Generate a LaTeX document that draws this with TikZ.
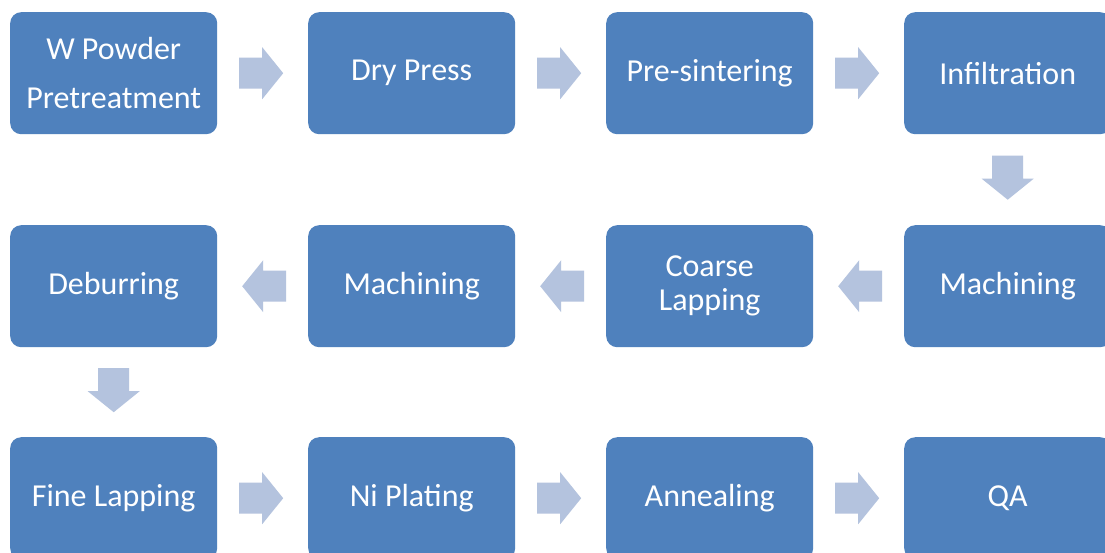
\documentclass[tikz,border=0pt]{standalone}
\usepackage{fontspec}
\setmainfont{Carlito}
\usetikzlibrary{calc}
\definecolor{boxblue}{HTML}{4F81BD}
\definecolor{arrowblue}{HTML}{B4C3DE}
\newcommand\blockarr[2]{%
  \fill[arrowblue, shift={(#1)}, rotate=#2]
    (-22pt,-15.5pt) -- (1pt,-15.5pt) -- (1pt,-26pt) -- (22pt,0pt) -- (1pt,26pt) -- (1pt,15.5pt) -- (-22pt,15.5pt) -- cycle;}
\begin{document}
\begin{tikzpicture}[x=1pt,y=-1pt,
  stepbox/.style={fill=boxblue, draw=none, rounded corners=11pt, minimum width=207pt, minimum height=122pt,
    text=white, font=\fontsize{32}{34}\selectfont, align=center, inner sep=0pt, anchor=north west}]
\useasboundingbox (0,0) rectangle (1105,552);
\clip (0,0) rectangle (1105,552);
\fill[white] (0,0) rectangle (1105,552);
% row 1
\node[stepbox] (b1) at (10,12) {W Powder\\[15pt]Pretreatment};
\node[stepbox] (b2) at (308,12) {Dry Press};
\node[stepbox] (b3) at (606,12) {Pre-sintering};
\node[stepbox] (b4) at (904,12) {Infiltration};
% row 2
\node[stepbox] (b5) at (904,225) {Machining};
\node[stepbox] (b6) at (606,225) {Coarse\\Lapping};
\node[stepbox] (b7) at (308,225) {Machining};
\node[stepbox] (b8) at (10,225) {Deburring};
% row 3
\node[stepbox] (b9) at (10,437) {Fine Lapping};
\node[stepbox] (b10) at (308,437) {Ni Plating};
\node[stepbox] (b11) at (606,437) {Annealing};
\node[stepbox] (b12) at (904,437) {QA};
% arrow positions
\coordinate (a1) at ($(b1.east)!0.5!(b2.west)+(-1.5,0)$);
\coordinate (a2) at ($(b2.east)!0.5!(b3.west)+(-1.5,0)$);
\coordinate (a3) at ($(b3.east)!0.5!(b4.west)+(-1.5,0)$);
\coordinate (a4) at ($(b4.south)!0.5!(b5.north)+(0,-2)$);
\coordinate (a5) at ($(b5.west)!0.5!(b6.east)+(1.5,0)$);
\coordinate (a6) at ($(b6.west)!0.5!(b7.east)+(1.5,0)$);
\coordinate (a7) at ($(b7.west)!0.5!(b8.east)+(1.5,0)$);
\coordinate (a8) at ($(b8.south)!0.5!(b9.north)+(0,-2)$);
\coordinate (a9) at ($(b9.east)!0.5!(b10.west)+(-1.5,0)$);
\coordinate (a10) at ($(b10.east)!0.5!(b11.west)+(-1.5,0)$);
\coordinate (a11) at ($(b11.east)!0.5!(b12.west)+(-1.5,0)$);
% arrows
\blockarr{a1}{0}
\blockarr{a2}{0}
\blockarr{a3}{0}
\blockarr{a4}{-90}
\blockarr{a5}{180}
\blockarr{a6}{180}
\blockarr{a7}{180}
\blockarr{a8}{-90}
\blockarr{a9}{0}
\blockarr{a10}{0}
\blockarr{a11}{0}
\end{tikzpicture}
\end{document}
